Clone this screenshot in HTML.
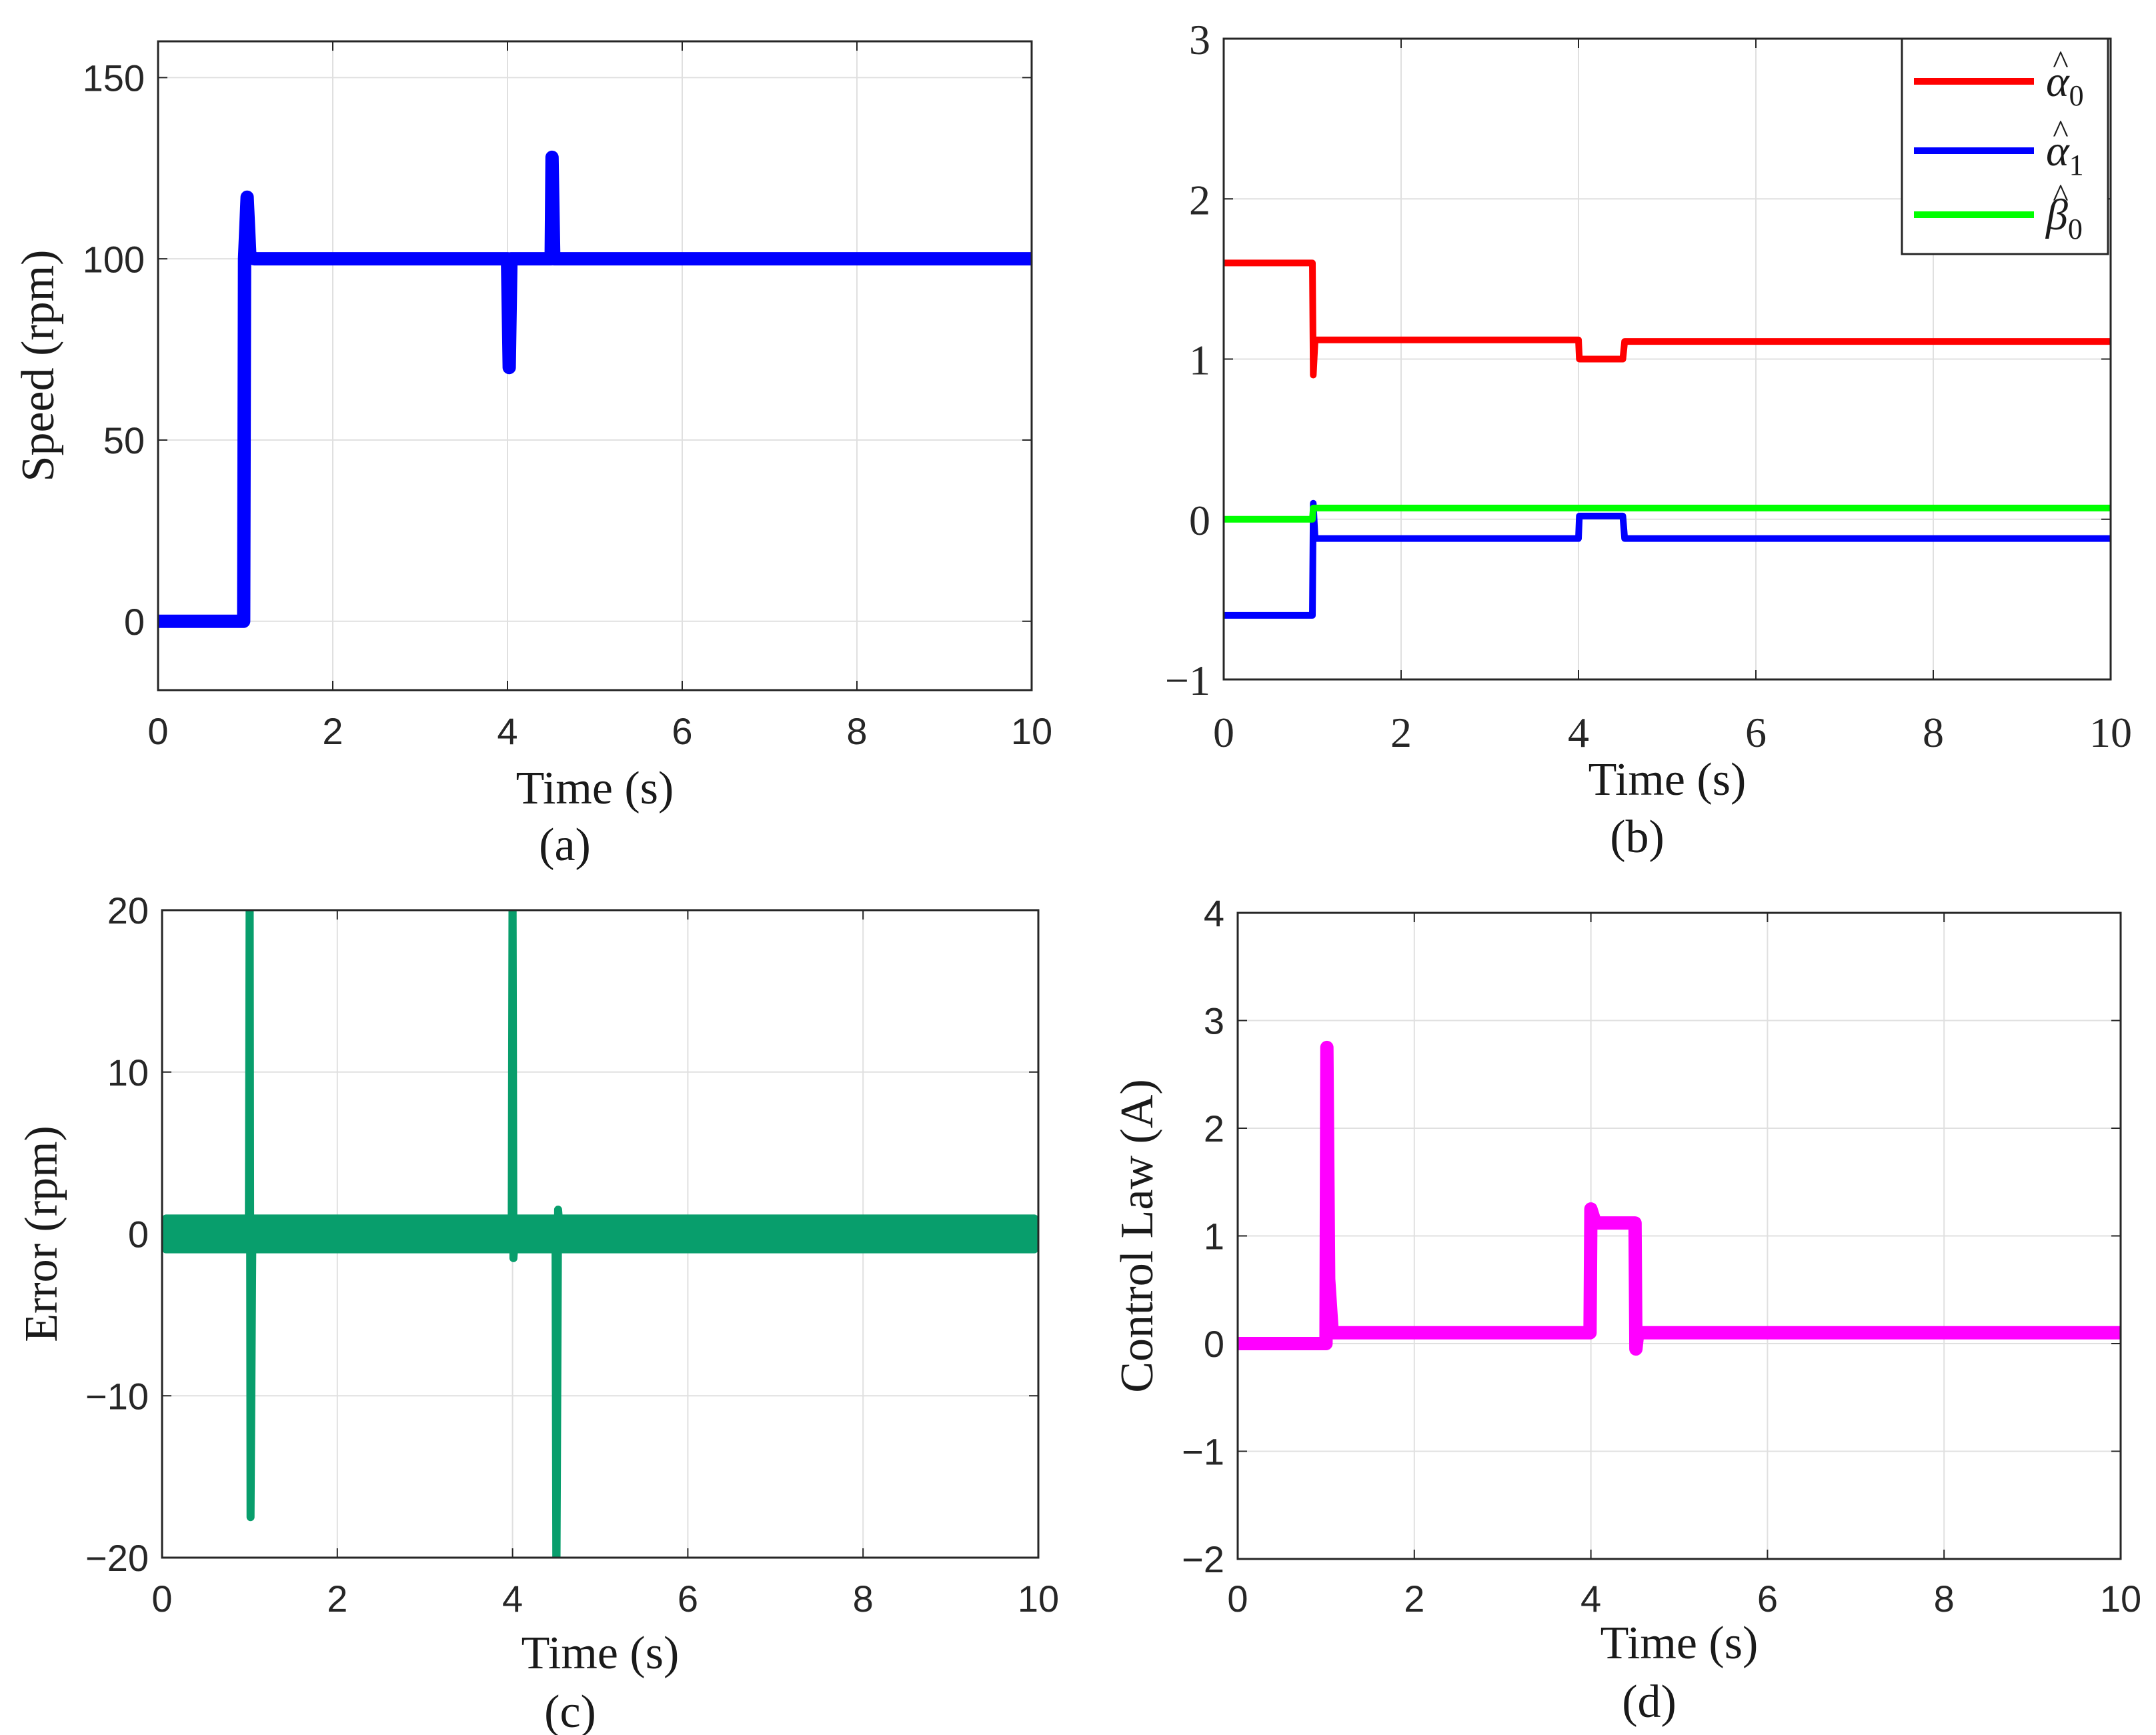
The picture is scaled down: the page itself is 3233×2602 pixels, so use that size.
<!DOCTYPE html>
<html><head><meta charset="utf-8"><style>
html,body{margin:0;padding:0;background:#fff;}
svg{display:block;}
.sans{font-family:"Liberation Sans",Arial,sans-serif;}
.serif{font-family:"Liberation Serif","Times New Roman",serif;}
</style></head><body>
<svg id="fig" width="3233" height="2602" viewBox="0 0 3233 2602" xmlns="http://www.w3.org/2000/svg"></svg>
<script>
// ---- Panel (a): Speed ----
const aTime  = [0, 0.98, 0.99, 1.02, 1.05, 1.1, 3.99, 4.0, 4.02, 4.04, 4.5, 4.51, 4.53, 4.56, 10];
const aSpeed = [0, 0, 100, 117, 101, 100, 100, 100, 70, 100, 100, 128, 100, 100, 100];
const aYTicks = [0, 50, 100, 150];
// ---- Panel (b): parameter estimates ----
const bTime   = [0, 1.0, 1.01, 1.03, 4.0, 4.01, 4.5, 4.52, 10];
const bAlpha0 = [1.6, 1.6, 0.9, 1.12, 1.12, 1.0, 1.0, 1.11, 1.11];
const bAlpha1 = [-0.6, -0.6, 0.1, -0.12, -0.12, 0.02, 0.02, -0.12, -0.12];
const bBeta0  = [0, 0, 0.07, 0.07, 0.07, 0.07, 0.07, 0.07, 0.07];
const bYTicks = [-1, 0, 1, 2, 3];
// ---- Panel (c): Error ----
const cTime  = [0, 0.99, 1.0, 1.01, 1.03, 1.06, 3.99, 4.0, 4.01, 4.03, 4.49, 4.5, 4.52, 4.54, 10];
const cError = [0, 0, 22, -17.5, -1, 0, 0, 22, -1.5, 0, 0, -22, 1.5, 0, 0];
const cBandHi = 1.2;
const cBandLo = -1.2;
const cYTicks = [-20, -10, 0, 10, 20];
// ---- Panel (d): Control law ----
const dTime    = [0, 1.0, 1.01, 1.03, 1.07, 3.99, 4.0, 4.05, 4.1, 4.5, 4.51, 4.53, 10];
const dControl = [0, 0, 2.75, 0.6, 0.1, 0.1, 1.25, 1.12, 1.12, 1.12, -0.05, 0.1, 0.1];
const dYTicks  = [-2, -1, 0, 1, 2, 3, 4];
const xTicks = [0, 2, 4, 6, 8, 10];

const NS = "http://www.w3.org/2000/svg";
const fig = document.getElementById('fig');
function mk(tag, attrs, parent) {
  const e = document.createElementNS(NS, tag);
  for (const k in attrs) e.setAttribute(k, attrs[k]);
  (parent || fig).appendChild(e);
  return e;
}
function makeAxes(p) {
  const g = mk('g', {});
  
  
  p.sx = v => p.x0 + (v - 0) / 10 * (p.x1 - p.x0);
  p.sy = v => p.y1 - (v - p.ymin) / (p.ymax - p.ymin) * (p.y1 - p.y0);
  mk('rect', {x: p.x0, y: p.y0, width: p.x1 - p.x0, height: p.y1 - p.y0, fill: '#fff'}, g);
  xTicks.forEach(t => {
    const l = mk('line', {x1: p.sx(t), x2: p.sx(t), y1: p.y0, y2: p.y1, stroke: '#e0e0e0', 'stroke-width': 2}, g);
    
    
    mk('line', {x1: p.sx(t), x2: p.sx(t), y1: p.y1, y2: p.y1 - 14, stroke: '#262626', 'stroke-width': 2}, g);
    mk('line', {x1: p.sx(t), x2: p.sx(t), y1: p.y0, y2: p.y0 + 14, stroke: '#262626', 'stroke-width': 2}, g);
    const tx = mk('text', {x: p.sx(t), y: p.xtY, 'text-anchor': 'middle', 'font-size': p.tfs, fill: '#262626', class: p.tickFont}, g);
    tx.textContent = String(t);
    
    
  });
  p.yticks.forEach(t => {
    const l = mk('line', {x1: p.x0, x2: p.x1, y1: p.sy(t), y2: p.sy(t), stroke: '#e0e0e0', 'stroke-width': 2}, g);
    
    
    mk('line', {x1: p.x0, x2: p.x0 + 14, y1: p.sy(t), y2: p.sy(t), stroke: '#262626', 'stroke-width': 2}, g);
    mk('line', {x1: p.x1, x2: p.x1 - 14, y1: p.sy(t), y2: p.sy(t), stroke: '#262626', 'stroke-width': 2}, g);
    const tx = mk('text', {x: p.x0 - 20, y: p.sy(t) + p.tfs * 0.36, 'text-anchor': 'end', 'font-size': p.tfs, fill: '#262626', class: p.tickFont}, g);
    tx.textContent = t < 0 ? '\u2212' + Math.abs(t) : String(t);
    
    
  });
  const xl = mk('text', {x: (p.x0 + p.x1) / 2, y: p.xlY, 'text-anchor': 'middle', 'font-size': 70, fill: '#1a1a1a', class: 'serif'}, fig);
  xl.textContent = 'Time (s)';
  
  
  if (p.ylabel) {
    const cy = (p.y0 + p.y1) / 2;
    const yl = mk('text', {x: p.ylX, y: cy, 'text-anchor': 'middle', 'font-size': 70, fill: '#1a1a1a', class: 'serif', transform: `rotate(-90 ${p.ylX} ${cy})`}, fig);
    yl.textContent = p.ylabel;
    
    
  }
  const cap = mk('text', {x: (p.x0 + p.x1) / 2 - 45, y: p.capY, 'text-anchor': 'middle', 'font-size': 70, fill: '#1a1a1a', class: 'serif'}, fig);
  cap.textContent = p.caption;
  
  
  const clipId = 'clip-' + p.name;
  const cp = mk('clipPath', {id: clipId}, g);
  mk('rect', {x: p.x0, y: p.y0, width: p.x1 - p.x0, height: p.y1 - p.y0}, cp);
  p.plot = mk('g', {'clip-path': `url(#${clipId})`}, g);
  p.g = g;
  return p;
}
function frame(p) {
  mk('rect', {x: p.x0, y: p.y0, width: p.x1 - p.x0, height: p.y1 - p.y0, fill: 'none', stroke: '#262626', 'stroke-width': 3}, p.g);
}
function series(p, xs, ys, color, w, name) {
  const pts = xs.map((x, i) => p.sx(x).toFixed(1) + ',' + p.sy(ys[i]).toFixed(1)).join(' ');
  const l = mk('polyline', {points: pts, fill: 'none', stroke: color, 'stroke-width': w, 'stroke-linejoin': 'round', 'stroke-linecap': 'round'}, p.plot);
  
  
  return l;
}

// Panel a
const pa = makeAxes({name: 'speed-chart', x0: 237, x1: 1547, y0: 62, y1: 1035, ymin: -19, ymax: 160, yticks: aYTicks,
  tfs: 56, tickFont: 'sans', xtY: 1116, xlY: 1205, ylX: 80, ylabel: 'Speed (rpm)', caption: '(a)', capY: 1290});
series(pa, aTime, aSpeed, '#0000ff', 20, 'speed-line');
frame(pa);

// Panel b
const pb = makeAxes({name: 'parameter-chart', x0: 1835, x1: 3165, y0: 58, y1: 1019, ymin: -1, ymax: 3, yticks: bYTicks,
  tfs: 64, tickFont: 'serif', xtY: 1120, xlY: 1192, ylX: null, ylabel: null, caption: '(b)', capY: 1278});
series(pb, bTime, bAlpha0, '#ff0000', 10, 'alpha0-line');
series(pb, bTime, bAlpha1, '#0000ff', 10, 'alpha1-line');
series(pb, bTime, bBeta0, '#00ff00', 10, 'beta0-line');
frame(pb);
// legend
const lg = mk('g', {});


mk('rect', {x: 2852, y: 58, width: 309, height: 323, fill: '#fff', stroke: '#262626', 'stroke-width': 3}, lg);
[['#ff0000', 'α', '0', 122], ['#0000ff', 'α', '1', 226], ['#00ff00', 'β', '0', 322]].forEach(e => {
  const en = mk('g', {}, lg);
  
  
  mk('line', {x1: 2870, x2: 3050, y1: e[3], y2: e[3], stroke: e[0], 'stroke-width': 10}, en);
  const t = mk('text', {x: 3068, y: e[3] + 22, 'font-size': 66, 'font-style': 'italic', fill: '#1a1a1a', class: 'serif'}, en);
  t.textContent = e[1];
  const s = mk('tspan', {'font-size': 44, 'font-style': 'normal', dy: 14}, t);
  s.textContent = e[2];
  const h = mk('text', {x: 3090, y: e[3] - 12, 'text-anchor': 'middle', 'font-size': 50, fill: '#1a1a1a', class: 'serif'}, en);
  h.textContent = '^';
});

// Panel c
const pc = makeAxes({name: 'error-chart', x0: 243, x1: 1557, y0: 1365, y1: 2336, ymin: -20, ymax: 20, yticks: cYTicks,
  tfs: 56, tickFont: 'sans', xtY: 2417, xlY: 2502, ylX: 85, ylabel: 'Error (rpm)', caption: '(c)', capY: 2590});
const band = mk('rect', {x: pc.sx(0), y: pc.sy(cBandHi), width: pc.sx(10) - pc.sx(0), height: pc.sy(cBandLo) - pc.sy(cBandHi), fill: '#089e6c', rx: 6}, pc.plot);


series(pc, cTime, cError, '#089e6c', 12, 'error-line');
frame(pc);

// Panel d
const pd = makeAxes({name: 'control-chart', x0: 1856, x1: 3180, y0: 1369, y1: 2338, ymin: -2, ymax: 4, yticks: dYTicks,
  tfs: 56, tickFont: 'sans', xtY: 2417, xlY: 2487, ylX: 1728, ylabel: 'Control Law (A)', caption: '(d)', capY: 2575});
series(pd, dTime, dControl, '#ff00ff', 20, 'control-line');
frame(pd);
</script>
</body></html>
